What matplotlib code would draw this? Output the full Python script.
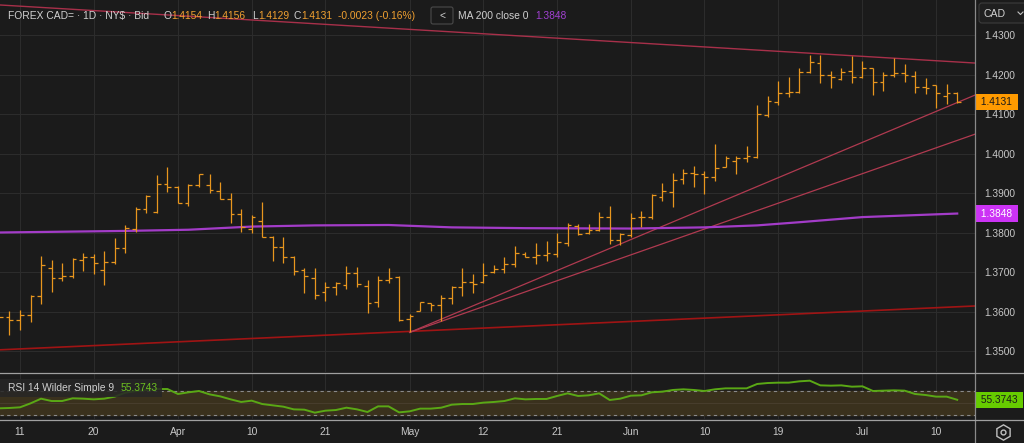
import matplotlib
matplotlib.use("Agg")
import matplotlib.pyplot as plt
import matplotlib.transforms as mtrans
from matplotlib.patches import FancyBboxPatch, Rectangle

plt.rcParams['font.family'] = ['Liberation Sans', 'DejaVu Sans']

# daily bars, index 0 = Mar 11
bar_idx = list(range(-2, 90))
opens = [1.3572, 1.3585, 1.3578, 1.3590, 1.3639, 1.3711, 1.3685, 1.3691, 1.3730, 1.3737,
         1.3705, 1.3726, 1.3762, 1.3808, 1.3859, 1.3851, 1.3922, 1.3914, 1.3875, 1.3919,
         1.3920, 1.3905, 1.3885, 1.3847, 1.3809, 1.3830, 1.3788, 1.3764, 1.3737, 1.3705,
         1.3686, 1.3649, 1.3662, 1.3666, 1.3697, 1.3664, 1.3625, 1.3681, 1.3688, 1.3580,
         1.3602, 1.3621, 1.3616, 1.3633, 1.3663, 1.3675, 1.3675, 1.3699, 1.3708, 1.3719,
         1.3745, 1.3739, 1.3743, 1.3746, 1.3774, 1.3816, 1.3800, 1.3806, 1.3839, 1.3781,
         1.3794, 1.3840, 1.3838, 1.3891, 1.3902, 1.3936, 1.3950, 1.3947, 1.3940, 1.3967,
         1.3981, 1.3989, 1.3992, 1.4097, 1.4130, 1.4154, 1.4156, 1.4206, 1.4228, 1.4200,
         1.4189, 1.4210, 1.4194, 1.4216, 1.4180, 1.4199, 1.4203, 1.4197, 1.4169, 1.4173,
         1.4146, 1.4154]
highs = [1.3600, 1.3601, 1.3604, 1.3643, 1.3741, 1.3730, 1.3722, 1.3736, 1.3747, 1.3746,
         1.3753, 1.3785, 1.3819, 1.3865, 1.3895, 1.3946, 1.3967, 1.3918, 1.3922, 1.3948,
         1.3948, 1.3929, 1.3899, 1.3859, 1.3844, 1.3878, 1.3791, 1.3788, 1.3741, 1.3709,
         1.3709, 1.3674, 1.3674, 1.3715, 1.3713, 1.3681, 1.3690, 1.3709, 1.3690, 1.3594,
         1.3625, 1.3622, 1.3642, 1.3665, 1.3709, 1.3695, 1.3722, 1.3717, 1.3737, 1.3767,
         1.3751, 1.3773, 1.3778, 1.3800, 1.3823, 1.3822, 1.3821, 1.3852, 1.3868, 1.3800,
         1.3849, 1.3854, 1.3897, 1.3925, 1.3950, 1.3960, 1.3969, 1.3956, 1.4024, 1.3994,
         1.3994, 1.4019, 1.4123, 1.4146, 1.4183, 1.4194, 1.4217, 1.4249, 1.4249, 1.4210,
         1.4216, 1.4248, 1.4235, 1.4217, 1.4207, 1.4241, 1.4227, 1.4210, 1.4190, 1.4173,
         1.4175, 1.4156]
lows = [1.3560, 1.3540, 1.3552, 1.3574, 1.3620, 1.3650, 1.3677, 1.3686, 1.3702, 1.3695,
        1.3666, 1.3719, 1.3749, 1.3802, 1.3849, 1.3850, 1.3903, 1.3874, 1.3867, 1.3914,
        1.3901, 1.3884, 1.3823, 1.3802, 1.3798, 1.3788, 1.3729, 1.3724, 1.3692, 1.3648,
        1.3632, 1.3627, 1.3642, 1.3658, 1.3661, 1.3595, 1.3612, 1.3671, 1.3577, 1.3547,
        1.3602, 1.3602, 1.3577, 1.3619, 1.3640, 1.3646, 1.3671, 1.3697, 1.3698, 1.3713,
        1.3739, 1.3720, 1.3729, 1.3737, 1.3767, 1.3793, 1.3797, 1.3804, 1.3772, 1.3768,
        1.3788, 1.3813, 1.3835, 1.3879, 1.3865, 1.3924, 1.3916, 1.3898, 1.3930, 1.3965,
        1.3948, 1.3979, 1.3988, 1.4092, 1.4123, 1.4144, 1.4152, 1.4205, 1.4178, 1.4167,
        1.4186, 1.4178, 1.4190, 1.4148, 1.4157, 1.4194, 1.4182, 1.4152, 1.4151, 1.4115,
        1.4125, 1.4129]
closes = [1.3585, 1.3578, 1.3590, 1.3639, 1.3717, 1.3685, 1.3691, 1.3732, 1.3737, 1.3723,
          1.3726, 1.3762, 1.3811, 1.3859, 1.3892, 1.3922, 1.3914, 1.3875, 1.3919, 1.3947,
          1.3908, 1.3885, 1.3847, 1.3813, 1.3838, 1.3789, 1.3764, 1.3739, 1.3702, 1.3691,
          1.3642, 1.3662, 1.3671, 1.3697, 1.3669, 1.3622, 1.3681, 1.3686, 1.3579, 1.3589,
          1.3623, 1.3616, 1.3633, 1.3663, 1.3675, 1.3669, 1.3692, 1.3707, 1.3719, 1.3749,
          1.3739, 1.3743, 1.3747, 1.3777, 1.3819, 1.3797, 1.3806, 1.3839, 1.3781, 1.3795,
          1.3836, 1.3838, 1.3896, 1.3905, 1.3933, 1.3950, 1.3947, 1.3940, 1.3964, 1.3989,
          1.3989, 1.3994, 1.4099, 1.4134, 1.4154, 1.4156, 1.4206, 1.4232, 1.4200, 1.4193,
          1.4206, 1.4194, 1.4216, 1.4180, 1.4199, 1.4203, 1.4200, 1.4169, 1.4167, 1.4152,
          1.4154, 1.4131]
rsi = [41.1, 41.7, 42.8, 49.4, 57.2, 53.3, 53.3, 57.8, 57.2, 56.1,
       57.2, 60.6, 67.2, 70.0, 71.7, 73.3, 73.3, 65.0, 67.8, 70.0,
       64.4, 61.1, 56.1, 51.7, 53.9, 48.3, 46.1, 43.9, 39.4, 38.9,
       33.9, 37.2, 38.3, 42.2, 39.4, 35.0, 44.4, 44.4, 34.4, 36.1,
       40.6, 40.6, 42.2, 47.2, 48.3, 48.3, 50.6, 51.7, 53.3, 57.8,
       56.1, 56.7, 56.7, 61.7, 66.1, 61.7, 62.8, 66.1, 55.0, 57.2,
       62.2, 62.8, 67.8, 68.9, 71.7, 72.8, 71.7, 70.0, 72.8, 74.4,
       74.4, 74.4, 81.7, 83.3, 83.9, 83.9, 86.1, 87.2, 79.4, 78.9,
       79.4, 77.2, 77.8, 70.0, 70.6, 71.1, 70.6, 65.0, 63.3, 60.6,
       60.6, 55.3743]

# MA 200 read at a few bars
ma_idx = [-2, 4, 10, 16, 22, 28, 35, 41, 48, 58, 65, 70, 74, 80, 89]
ma_val = [1.3800, 1.3802, 1.3804, 1.3807, 1.3815, 1.3818, 1.3819, 1.3813, 1.3811,
          1.3810, 1.3813, 1.3818, 1.3826, 1.3839, 1.3848]

# drawn trendlines (bar index, price)
top_line = ([-1.9, 90.7], [1.4376, 1.4229])
base_line = ([-1.9, 90.7], [1.3503, 1.3614])
rise_a = ([37, 90.7], [1.3547, 1.4148])
rise_b = ([37, 90.7], [1.3547, 1.4049])

tick_pos = [0, 7, 15, 22, 29, 37, 44, 51, 58, 65, 72, 80, 87]
tick_lbl = ['11', '20', 'Apr', '10', '21', 'May', '12', '21', 'Jun', '10', '19', 'Jul', '10']
price_ticks = [1.35, 1.36, 1.37, 1.38, 1.39, 1.40, 1.41, 1.42, 1.43]

BG = '#1b1b1b'
GRID = '#2c2c2c'
TXT = '#c8c8c8'
BAR = '#e8961e'
ORANGE = '#f0a030'
W, H = 1024, 443

fig = plt.figure(figsize=(W / 100, H / 100), dpi=100, facecolor=BG)
ax = fig.add_axes([0, 1 - 372 / H, 975 / W, 372 / H], facecolor=BG)
rax = fig.add_axes([0, 1 - 419 / H, 975 / W, 46 / H], facecolor=BG)

for a in (ax, rax):
    for s in a.spines.values():
        s.set_visible(False)
    a.set_xlim(-1.9, 90.69)
    a.set_xticks(tick_pos)
    for t in tick_pos:
        a.axvline(t, color=GRID, lw=0.8, zorder=0)

# price panel
ax.set_ylim(1.344684, 1.438861)
for p in price_ticks:
    ax.axhline(p, color=GRID, lw=0.8, zorder=0)
ax.yaxis.tick_right()
ax.set_yticks(price_ticks)
ax.set_yticklabels([f'{p:.4f}' for p in price_ticks])
ax.tick_params(axis='y', length=0, pad=7, labelsize=7.3, colors=TXT)
ax.tick_params(axis='x', length=0, labelbottom=False)

ax.plot(*top_line, color='#a8304a', lw=1.0, zorder=2)
ax.plot(*base_line, color='#a01414', lw=1.2, zorder=2)
ax.plot(*rise_a, color='#b03a50', lw=0.9, zorder=2)
ax.plot(*rise_b, color='#b03a50', lw=0.9, zorder=2)
ax.plot(ma_idx, ma_val, color='#a33cc8', lw=1.6, zorder=3)

left = [i - 0.36 for i in bar_idx]
right = [i + 0.36 for i in bar_idx]
ax.vlines(bar_idx, lows, highs, color=BAR, lw=0.9, zorder=4)
ax.hlines(opens, left, bar_idx, color=BAR, lw=0.9, zorder=4)
ax.hlines(closes, bar_idx, right, color=BAR, lw=0.9, zorder=4)

tr = mtrans.blended_transform_factory(ax.transAxes, ax.transData)
ax.text(1.003, closes[-1], f' {closes[-1]:.4f} ', transform=tr, ha='left', va='center',
        fontsize=7.3, color='#1a1a1a', clip_on=False, zorder=6,
        bbox=dict(boxstyle='square,pad=0.3', fc='#ff9a00', ec='none'))
ax.text(1.003, ma_val[-1], f' {ma_val[-1]:.4f} ', transform=tr, ha='left', va='center',
        fontsize=7.3, color='white', clip_on=False, zorder=6,
        bbox=dict(boxstyle='square,pad=0.3', fc='#cc33f5', ec='none'))

# RSI panel
rax.set_ylim(23.33, 100)
rax.set_yticks([])
rax.fill_between([-1.9, 90.69], 30, 70, color='#3a311d', zorder=0)
rax.axhline(70, color='#8a8a8a', lw=0.8, ls=(0, (3, 3)), zorder=1)
rax.axhline(30, color='#8a8a8a', lw=0.8, ls=(0, (3, 3)), zorder=1)
rax.axhline(50, color='#4a4030', lw=0.6, zorder=1)
rax.plot(bar_idx, rsi, color='#5aa815', lw=1.4, zorder=3)
rax.set_xticklabels(tick_lbl)
rax.tick_params(axis='x', length=0, pad=6, labelsize=7.4, colors=TXT)
tr2 = mtrans.blended_transform_factory(rax.transAxes, rax.transData)
rax.text(1.003, rsi[-1], f' {rsi[-1]:.4f} ', transform=tr2, ha='left', va='center',
         fontsize=7.3, color='#1a1a1a', clip_on=False, zorder=6,
         bbox=dict(boxstyle='square,pad=0.3', fc='#66cc00', ec='none'))

# overlay in pixel coordinates for header and frame
ov = fig.add_axes([0, 0, 1, 1])
ov.set_xlim(0, W)
ov.set_ylim(H, 0)
ov.axis('off')
ov.patch.set_alpha(0)

ov.plot([975, 975], [0, H], color='#8a8a8a', lw=0.9)
ov.plot([0, W], [372.5, 372.5], color='#a0a0a0', lw=0.9)
ov.plot([0, W], [419.5, 419.5], color='#a0a0a0', lw=0.9)

hy = 16
ov.text(8, hy, 'FOREX CAD= · 1D · NY$ · Bid', color='#d0d0d0', fontsize=7.4, va='center')
chg = closes[-1] - closes[-2]
pct = chg / closes[-2] * 100
parts = [(163, 'O', '#d0d0d0'), (171, f'{opens[-1]:.4f}', ORANGE),
         (207, 'H', '#d0d0d0'), (214, f'{highs[-1]:.4f}', ORANGE),
         (252, 'L', '#d0d0d0'), (258, f'{lows[-1]:.4f}', ORANGE),
         (294, 'C', '#d0d0d0'), (301, f'{closes[-1]:.4f}', ORANGE),
         (338, f'{chg:.4f} ({pct:.2f}%)', ORANGE)]
for x, s, c in parts:
    ov.text(x, hy, s, color=c, fontsize=7.4, va='center')

ov.add_patch(FancyBboxPatch((431, 7), 22, 17, boxstyle='round,pad=0,rounding_size=2',
                            fc='none', ec='#4a4a4a', lw=0.8))
ov.text(442, hy, '<', color='#d0d0d0', fontsize=7.4, va='center', ha='center')
ov.text(458, hy, 'MA 200 close 0', color='#d0d0d0', fontsize=7.4, va='center')
ov.text(535, hy, f'{ma_val[-1]:.4f}', color='#a040d0', fontsize=7.4, va='center')

# RSI label
ov.add_patch(Rectangle((0, 379), 162, 18, fc='#262626', ec='none', alpha=0.85))
ov.text(8, 388, 'RSI 14 Wilder Simple 9', color='#d0d0d0', fontsize=7.4, va='center')
ov.text(121, 388, f'{rsi[-1]:.4f}', color='#6cc020', fontsize=7.4, va='center')

# currency selector and settings icon
ov.add_patch(FancyBboxPatch((979, 3), 48, 20, boxstyle='round,pad=0,rounding_size=3',
                            fc='#1f1f1f', ec='#3c3c3c', lw=0.8))
ov.text(983, 13.5, 'CAD', color='#d0d0d0', fontsize=7.6, va='center')
ov.plot([1018, 1020.5, 1023], [12, 14.5, 12], color='#c0c0c0', lw=0.8)
ov.plot([1003], [432], marker='h', ms=11, mfc='none', mec='#c0c0c0', mew=1.0)
ov.plot([1003], [432], marker='o', ms=3.5, mfc='none', mec='#c0c0c0', mew=1.0)

fig.savefig('out.png', dpi=100, facecolor=BG)
